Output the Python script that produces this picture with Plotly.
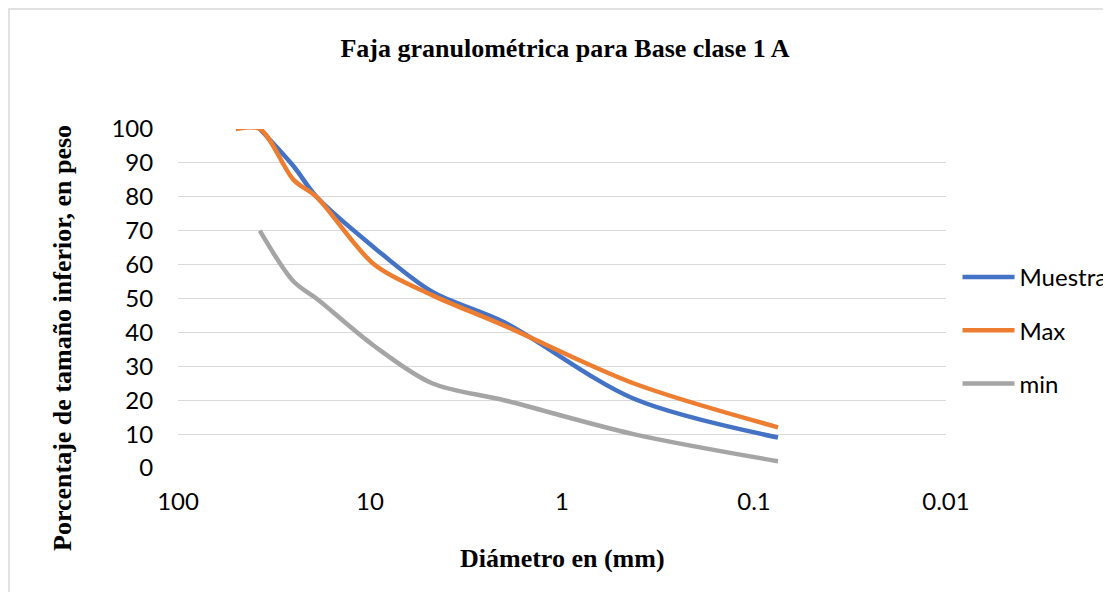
import plotly.graph_objects as go

# Faja granulométrica - tamices en mm y % que pasa
tamiz_max = [50, 37.5, 25, 19, 9.5, 4.75, 2, 0.425, 0.075]
pasa_max = [100, 100, 85, 80, 60, 51, 42, 25, 12]

tamiz = [37.5, 25, 19, 9.5, 4.75, 2, 0.425, 0.075]
pasa_muestra = [100, 89, 80, 65, 52, 43, 20.5, 9]
pasa_min = [70, 55, 50, 36, 25, 20, 10, 2]

ticks_x = [100, 10, 1, 0.1, 0.01]
ticks_x_txt = ['100', '10', '1', '0.1', '0.01']

fuente = 'Lato'
serif = 'Liberation Serif'

# la página html tiene 8px de margen en el body -> se descuenta
W, H = 1103, 584

fig = go.Figure()
fig.add_trace(go.Scatter(x=tamiz, y=pasa_muestra, name='Muestra', mode='lines',
                         line=dict(color='#4472C4', width=4.5, shape='spline', smoothing=0.9),
                         legendgroup='a'))
fig.add_trace(go.Scatter(x=tamiz_max, y=pasa_max, name='Max', mode='lines',
                         line=dict(color='#ED7D31', width=4.5, shape='spline', smoothing=0.9),
                         legendgroup='b'))
fig.add_trace(go.Scatter(x=tamiz, y=pasa_min, name='min', mode='lines',
                         line=dict(color='#A5A5A5', width=4.5, shape='spline', smoothing=0.9),
                         legendgroup='c'))

fig.update_layout(
    width=W, height=H,
    margin=dict(l=170, r=165, t=121, b=124, autoexpand=False),
    plot_bgcolor='white', paper_bgcolor='white',
    title=dict(text='<b>Faja granulométrica para Base clase 1 A</b>',
               font=dict(family=serif, size=26, color='black'),
               x=(565 - 8) / W, xanchor='center', y=1 - (48 - 8) / H, yanchor='middle', yref='container'),
    xaxis=dict(type='log', range=[2, -2], tickvals=ticks_x, ticktext=ticks_x_txt,
               showgrid=False, zeroline=False, showline=False,
               ticks='outside', ticklen=12, tickcolor='rgba(0,0,0,0)',
               tickfont=dict(family=fuente, size=24, color='black')),
    yaxis=dict(range=[0, 100], dtick=10, showgrid=True, gridcolor='#d9d9d9', gridwidth=1.3,
               zeroline=False, showline=False,
               ticks='outside', ticklen=19, tickcolor='rgba(0,0,0,0)',
               tickfont=dict(family=fuente, size=24, color='black')),
    legend=dict(x=1.015, xanchor='left', y=(468 - 255) / 339, yanchor='top', tracegroupgap=19,
                itemwidth=52,
                font=dict(family=fuente, size=24, color='black'), bgcolor='rgba(0,0,0,0)'),
    showlegend=True,
)

# títulos de ejes
fig.add_annotation(text='<b>Diámetro en (mm)</b>', xref='paper', yref='paper',
                   x=(562 - 178) / 768, y=(468 - 558) / 339, showarrow=False,
                   xanchor='center', yanchor='middle',
                   font=dict(family=serif, size=26, color='black'))
fig.add_annotation(text='<b>Porcentaje de tamaño inferior, en peso</b>', xref='paper', yref='paper',
                   x=(62 - 178) / 768, y=(468 - 338) / 339, showarrow=False, textangle=-90,
                   xanchor='center', yanchor='middle',
                   font=dict(family=serif, size=26, color='black'))

# borde del gráfico
fig.add_shape(type='rect', xref='paper', yref='paper',
              x0=(9 - 178) / 768, x1=1.5, y0=-0.6, y1=(468 - 9) / 339,
              line=dict(color='#d9d9d9', width=1.5), fillcolor='rgba(0,0,0,0)', layer='below')

fig.write_html('out.html')
